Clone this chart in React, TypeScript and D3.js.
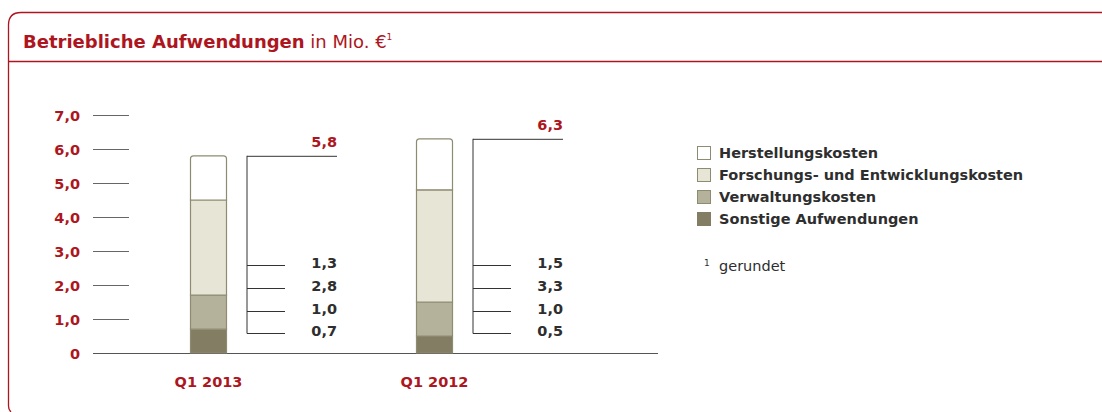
import React from "react";
import * as d3 from "d3";

const categories = ["Q1 2013", "Q1 2012"];
const seriesNames = ["Sonstige Aufwendungen", "Verwaltungskosten", "Forschungs- und Entwicklungskosten", "Herstellungskosten"];
const sonstige = [0.7, 0.5];
const verwaltung = [1.0, 1.0];
const forschung = [2.8, 3.3];
const herstellung = [1.3, 1.5];
const totals = [5.8, 6.3];
const yTicks = [0, 1, 2, 3, 4, 5, 6, 7];
const legendOrder = ["Herstellungskosten", "Forschungs- und Entwicklungskosten", "Verwaltungskosten", "Sonstige Aufwendungen"];

const RED = "#ad1620";
const TEXT = "#2e2e2e";
const colors: Record<string, string> = {
  "Herstellungskosten": "#ffffff",
  "Forschungs- und Entwicklungskosten": "#e7e6d6",
  "Verwaltungskosten": "#b4b29b",
  "Sonstige Aufwendungen": "#827d63",
};
const FONT = "'DejaVu Sans', Verdana, sans-serif";

const fmt = (v: number) => (v === 0 ? "0" : v.toFixed(1).replace(".", ","));

export default function App() {
  const W = 1102, H = 412;
  const y = d3.scaleLinear().domain([0, 7]).range([353, 115]);
  const x = d3.scalePoint<string>().domain(categories).range([208.5, 434.5]);
  const barW = 37;

  const rows = categories.map((c, i) => ({
    cat: c,
    "Sonstige Aufwendungen": sonstige[i],
    "Verwaltungskosten": verwaltung[i],
    "Forschungs- und Entwicklungskosten": forschung[i],
    "Herstellungskosten": herstellung[i],
  }));
  const stack = d3.stack<any>().keys(seriesNames)(rows);

  return (
    <svg width={W} height={H} style={{ position: "absolute", left: 0, top: 0, fontFamily: FONT }}>
      {/* frame */}
      <path d={`M1102,12.5 L21,12.5 Q8.5,12.5 8.5,25 L8.5,406 Q8.5,410 11,412`} fill="none" stroke={RED} strokeWidth={1.3} />
      <line x1={8.5} x2={1102} y1={61.5} y2={61.5} stroke={RED} strokeWidth={1.3} />
      <text x={23} y={48} fontSize={18} fill={RED} fontWeight="bold">
        Betriebliche Aufwendungen<tspan fontWeight="normal"> in Mio. €</tspan>
        <tspan fontWeight="normal" fontSize={9} dy={-8}>1</tspan>
      </text>

      {/* y ticks */}
      {yTicks.map((t) => (
        <g key={t}>
          {t > 0 && <line x1={93} x2={129} y1={y(t) + 0.5} y2={y(t) + 0.5} stroke="#666" strokeWidth={1} />}
          <text x={80} y={y(t) + 6} textAnchor="end" fontSize={14.5} fontWeight="bold" fill={RED}>{fmt(t)}</text>
        </g>
      ))}
      <line x1={93} x2={658} y1={353.5} y2={353.5} stroke="#555" strokeWidth={1} />

      {/* bars */}
      {stack.map((layer) => (
        <g key={layer.key}>
          {layer.map((d, i) => {
            const cx = x(categories[i])!;
            const top = y(d[1]);
            const bot = y(d[0]);
            const isTop = layer.key === "Herstellungskosten";
            const x0 = cx - barW / 2 + 0.5, x1 = cx + barW / 2 - 0.5;
            const r = 3;
            const path = isTop
              ? `M${x0},${bot} L${x0},${top + r} Q${x0},${top} ${x0 + r},${top} L${x1 - r},${top} Q${x1},${top} ${x1},${top + r} L${x1},${bot}`
              : `M${x0},${bot} L${x0},${top} L${x1},${top} L${x1},${bot}`;
            return (
              <path key={i} d={path + " Z"} fill={colors[layer.key]} stroke="#8e8b73" strokeWidth={1.2} />
            );
          })}
        </g>
      ))}

      {/* brackets and value labels */}
      {categories.map((c, i) => {
        const cx = x(c)!;
        const bx = cx + 38.5;
        const labelRight = cx + 128.5;
        const vals = [herstellung[i], forschung[i], verwaltung[i], sonstige[i]];
        const ly = [265, 288, 311, 333];
        return (
          <g key={c}>
            <line x1={bx} x2={bx} y1={y(totals[i])} y2={ly[3] + 0.5} stroke="#333" strokeWidth={1} />
            <line x1={bx} x2={labelRight} y1={y(totals[i]) + 0.5} y2={y(totals[i]) + 0.5} stroke="#333" strokeWidth={1} />
            <text x={labelRight} y={y(totals[i]) - 8.5} textAnchor="end" fontSize={14.5} fontWeight="bold" fill={RED}>{fmt(totals[i])}</text>
            {vals.map((v, k) => (
              <g key={k}>
                <line x1={bx} x2={bx + 38} y1={ly[k] + 0.5} y2={ly[k] + 0.5} stroke="#333" strokeWidth={1} />
                <text x={labelRight} y={ly[k] + 3} textAnchor="end" fontSize={14.5} fontWeight="bold" fill={TEXT}>{fmt(v)}</text>
              </g>
            ))}
            <text x={cx} y={387} textAnchor="middle" fontSize={14.5} fontWeight="bold" fill={RED}>{c}</text>
          </g>
        );
      })}

      {/* legend */}
      {legendOrder.map((name, k) => (
        <g key={name} transform={`translate(697,${146 + k * 22})`}>
          <rect x={0.5} y={0.5} width={13} height={13} fill={colors[name]} stroke={name === "Sonstige Aufwendungen" ? colors[name] : "#8e8b73"} strokeWidth={1} />
          <text x={22} y={12} fontSize={14.5} fontWeight="bold" fill={TEXT}>{name}</text>
        </g>
      ))}
      <text x={704} y={266} fontSize={9} fill={TEXT}>1</text>
      <text x={719} y={271} fontSize={14.5} fill={TEXT}>gerundet</text>
    </svg>
  );
}
